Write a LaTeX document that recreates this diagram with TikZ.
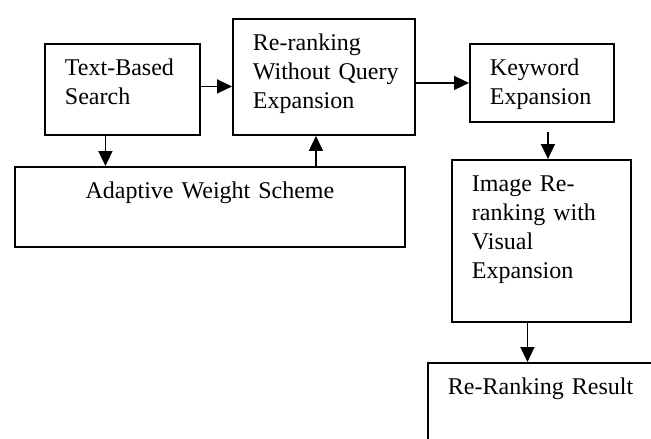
\documentclass[tikz,border=0pt]{standalone}
\usepackage{fontspec}
\setmainfont{Liberation Serif}[WordSpace=0.5]
\usetikzlibrary{arrows.meta}
\tikzset{
  stage/.style={draw, line width=1.9pt, anchor=north west, align=left,
    inner xsep=20pt, inner ysep=0pt, text height=32pt,
    font=\fontsize{24}{29}\selectfont},
  flow/.style={-{Triangle[length=15pt,width=14pt]}, line width=1.6pt}
}
\begin{document}
\begin{tikzpicture}[x=1pt,y=-1pt]
    \useasboundingbox (0,0) rectangle (651,439);
    \clip (0,0) rectangle (651,439);
    % Boxes
    \node[stage, text width=115pt, text depth=59pt] (search) at (44,43) {Text-Based\\Search};
    \node[stage, text width=142pt, text depth=84pt] (rerank) at (232,18) {Re-ranking\\Without~Query\\Expansion};
    \node[stage, text width=104pt, text depth=46pt] (keyword) at (469,43) {Keyword\\Expansion};
    \node[stage, align=center, text width=350pt, text depth=48pt] (weight) at (14,166) {Adaptive Weight Scheme};
    \node[stage, text width=139pt, text depth=130pt] (visual) at (451,159) {Image Re-\\ranking~with\\Visual\\Expansion};
    \node[stage, text width=260pt, text depth=120pt] (result) at (427,362) {Re-Ranking Result};
    % Arrows
    \draw[flow] ([yshift=3pt]search.east) -- ([yshift=3pt]search.east -| rerank.west);
    \draw[flow] (keyword.west -| rerank.east) -- (keyword.west);
    \draw[flow] ([xshift=-17pt]search.south) -- ([xshift=-17pt]search.south |- weight.north);
    \draw[flow] ([xshift=-8pt]rerank.south |- weight.north) -- ([xshift=-8pt]rerank.south);
    \draw[flow] ([shift={(6pt,-9pt)}]keyword.south) -- ([xshift=6pt]keyword.south |- visual.north);
    \draw[flow] ([xshift=-14pt]visual.south) -- ([xshift=-14pt]visual.south |- result.north);
\end{tikzpicture}
\end{document}
